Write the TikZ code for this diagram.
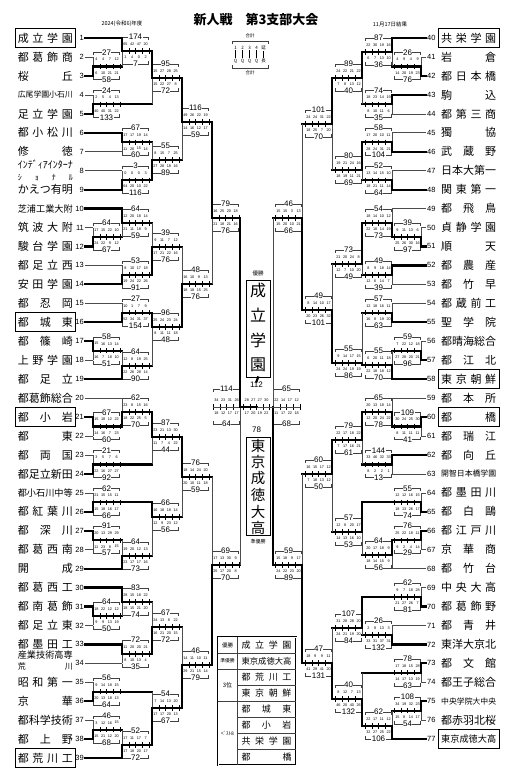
\documentclass[tikz,border=0pt]{standalone}
\usepackage{fontspec}
\usepackage{graphicx}
\setmainfont{Liberation Sans}
\newfontfamily\jp{Noto Sans CJK JP}
\usetikzlibrary{calc}

\makeatletter
\def\sp@first#1{#1\sp@loop}
\def\sp@loop#1{\ifx\relax#1\else\hfill#1\expandafter\sp@loop\fi}
\newcommand\spreadname[2][55pt]{\makebox[#1][s]{\sp@first#2\relax}}
\makeatother
\newcommand\fitname[2][55pt]{\sbox0{#2}\ifdim\wd0>#1\relax\resizebox{#1}{!}{#2}\else\spreadname[#1]{#2}\fi}
\newcommand\tabname[1]{\fitname[50pt]{#1}}

% quarter scores, four in a row
\def\qsplit#1 #2 #3 #4\relax{%
  \node[qtr] at (3.375,\qy) {#1};
  \node[qtr] at (10.125,\qy) {#2};
  \node[qtr] at (16.875,\qy) {#3};
  \node[qtr] at (23.625,\qy) {#4};}

% score box: [half height] coordinate, x offset, top total, top quarters, bottom total, bottom quarters
\newcommand\scorebox[7][14]{%
  \begin{scope}[shift={(#2)}, xshift=#3]
    \draw[frame line] (0.5,{-#1+3}) -- (0.5,-#1) -- (26.5,-#1) -- (26.5,{-#1+3});
    \draw[frame line] (0.5,{#1-4}) -- (0.5,{#1-1}) -- (26.5,{#1-1}) -- (26.5,{#1-4});
    \foreach \k in {0,...,4} \draw[tick line] ({\k*6.75},-2.6) -- ({\k*6.75},2.6);
    \def\qy{-7}\expandafter\qsplit#5\relax
    \def\qy{6.5}\expandafter\qsplit#7\relax
    \node[total] at (13.5,-#1) {#4};
    \node[total] at (13.5,{#1-1}) {#6};
  \end{scope}}

\begin{document}
\begin{tikzpicture}[x=1pt, y=-1pt,
    win line/.style={line width=2.2pt, line cap=rect},
    lose line/.style={line width=0.6pt, draw=black!70},
    h w/.style={win line}, v w/.style={win line},
    h l/.style={win line}, v l/.style={lose line},
    h o/.style={lose line}, v o/.style={lose line},
    frame line/.style={line width=0.35pt, draw=black!75},
    tick line/.style={line width=0.35pt},
    total/.style={font=\fontsize{8}{9}\selectfont, fill=white, inner sep=0.5pt},
    qtr/.style={font=\fontsize{3.8}{4}\selectfont, inner sep=0pt},
    tnum/.style={font=\fontsize{7.5}{8}\selectfont, inner sep=1pt},
    tname/.style={font=\jp\fontsize{11}{12}\selectfont, inner sep=0pt},
    name frame/.style={line width=0.6pt},
    small jp/.style={font=\jp\fontsize{5.5}{6}\selectfont, inner sep=0.5pt},
    legend jp/.style={font=\jp\fontsize{4.5}{5}\selectfont, inner sep=0.5pt},
  ]
  \useasboundingbox (0,0) rectangle (514,782);
  \fill[white] (0,0) rectangle (514,782);

  % heading
  \node[font=\jp\bfseries\fontsize{13}{14}\selectfont] (title) at (256,20) {新人戦　第3支部大会};
  \node[small jp] (season) at (122,24) {2024(令和6)年度};
  \node[small jp] (result) at (390,24) {11月17日結果};

  % legend
  \node[legend jp] (lgtop) at (250,36) {合計};
  \draw[frame line] (232,44) -- (232,41) -- (268,41) -- (268,44);
  \foreach \c [count=\k] in {1,2,3,4,延} {
    \node[legend jp] (lga\k) at ({228.5+7*\k},48) {\c};
    \node[legend jp] (lgb\k) at ({228.5+7*\k},61) {\ifnum\k=5 長\else Q\fi};
    \draw[tick line] (lga\k) -- (lgb\k);
  }
  \draw[frame line] (232,65) -- (232,68) -- (268,68) -- (268,65);
  \node[legend jp] (lgbot) at (250,73) {合計};

  % teams, left side
  \foreach \i in {1,...,39}
    \node[tnum, anchor=east] (t\i) at (85,{38+(\i-1)*18.95}) {\i};
  \foreach \i/\nm in {1/成立学園, 2/都葛飾商, 3/桜丘, 4/広尾学園小石川, 5/足立学園,
      6/都小松川, 7/修徳, 9/かえつ有明, 10/芝浦工業大附, 11/筑波大附, 12/駿台学園,
      13/都足立西, 14/安田学園, 15/都忍岡, 16/都城東, 17/都篠崎, 18/上野学園, 19/都足立,
      20/都葛飾総合, 21/都小岩, 22/都東, 23/都両国, 24/都足立新田, 25/都小石川中等,
      26/都紅葉川, 27/都深川, 28/都葛西南, 29/開成, 30/都葛西工, 31/都南葛飾,
      32/都足立東, 33/都墨田工, 35/昭和第一, 36/京華, 37/都科学技術, 38/都上野, 39/都荒川工}
    \node[tname, anchor=east] (n\i) at (73,{38+(\i-1)*18.95}) {\expandafter\fitname\expandafter{\nm}};
  \node[tname, anchor=east, align=left, font=\jp\fontsize{8}{12}\selectfont] (n8) at (73,170.4)
    {\resizebox{55pt}{!}{ｲﾝﾃﾞｨｱｲﾝﾀｰﾅ}\\\spreadname{ｼｮﾅﾙ}};
  \node[tname, anchor=east, align=left, font=\jp\fontsize{8}{11}\selectfont] (n34) at (73,660.5)
    {\resizebox{55pt}{!}{産業技術高専}\\\spreadname{荒川}};

  % teams, right side
  \foreach \j in {40,...,77}
    \node[tnum, anchor=west] (t\j) at (426,{38+(\j-40)*18.95}) {\j};
  \foreach \j/\nm in {40/共栄学園, 41/岩倉, 42/都日本橋, 43/駒込, 44/都第三商, 45/獨協,
      46/武蔵野, 47/日本大第一, 48/関東第一, 49/都飛鳥, 50/貞静学園, 51/順天, 52/都農産,
      53/都竹早, 54/都蔵前工, 55/聖学院, 56/都晴海総合, 57/都江北, 58/東京朝鮮, 59/都本所,
      60/都橋, 61/都瑞江, 62/都向丘, 63/開智日本橋学園, 64/都墨田川, 65/都白鷗,
      66/都江戸川, 67/京華商, 68/都竹台, 69/中央大高, 70/都葛飾野, 71/都青井,
      72/東洋大京北, 73/都文館, 74/都王子総合, 75/中央学院大中央, 76/都赤羽北桜,
      77/東京成徳大高}
    \node[tname, anchor=west] (n\j) at (441,{38+(\j-40)*18.95}) {\expandafter\fitname\expandafter{\nm}};

  % best 8 frames
  \foreach \i in {1,16,21,39,40,58,60,77}
    \draw[name frame] ($(n\i.west)+(-2.5,-9.5)$) rectangle ($(n\i.east)+(2.5,9.5)$);

  % matches: name/offset/x/y/top/code/bottom/code/top total/quarters/bottom total/quarters
  \foreach \m/\d/\x/\y/\A/\cA/\B/\cB/\sA/\qA/\sB/\qB in {
      a23/0/93/66.4/t2.east/o/t3.east/w/27/4 4 7 12/58/6 10 21 21,
      a13/0/122/51/t1.east/w/a23/l/174/65 42 47 20/7/1 4 0 2,
      a45/0/93/104.3/t4.east/o/t5.east/w/24/2 5 4 13/133/40 40 31 22,
      a15/0/152/78/a13/w/a45/l/95/15 27 28 25/72/15 22 27 8,
      a67/0/122/142.2/t6.east/w/t7.east/o/67/17 17 19 14/60/11 20 15 14,
      a89/0/122/180.1/t8.east/o/t9.east/w/3/0 0 0 3/116/64 20 10 22,
      a69/0/152/160/a67/l/a89/w/55/8 15 7 25/89/27 28 18 16,
      a19/0/182/122/a15/w/a69/l/116/49 26 22 19/59/14 16 12 17,
      a1112/0/93/237/t11.east/o/t12.east/w/64/17 15 22 10/67/24 22 9 12,
      a1012/0/122/223/t10.east/w/a1112/l/64/12 20 18 14/59/21 11 18 9,
      a1314/0/122/274.9/t13.east/o/t14.east/w/53/8 10 17 18/91/19 24 22 26,
      a1014/0/152/247/a1012/l/a1314/w/39/9 11 7 12/76/17 21 22 16,
      a1516/0/122/312.8/t15.east/o/t16.east/w/27/10 1 7 9/154/52 34 31 37,
      a1718/0/93/350.7/t17.east/w/t18.east/o/58/15 16 13 14/51/16 7 18 10,
      a1719/0/122/366/a1718/l/t19.east/w/64/12 8 19 25/90/22 26 28 14,
      a1519/0/152/327/a1516/w/a1719/l/96/25 24 23 24/48/8 11 11 18,
      a1019/0/182/284/a1014/l/a1519/w/48/16 10 9 13/76/18 18 15 25,
      a119/0/212/218/a19/w/a1019/l/79/16 25 20 18/76/21 18 21 16,
      a2122/0/93/426.5/t21.east/w/t22.east/o/67/15 18 12 22/60/14 16 7 23,
      a2022/0/122/412/t20.east/o/a2122/w/62/23 8 15 16/70/18 22 25 5,
      a2324/0/93/464.4/t23.east/o/t24.east/w/21/3 5 7 6/92/22 16 27 27,
      a2024/0/152/437/a2022/w/a2324/l/87/23 21 13 30/44/11 7 4 22,
      a2526/0/93/502.3/t25.east/o/t26.east/w/62/21 15 15 11/66/15 18 16 17,
      a2728/0/93/540.2/t27.east/w/t28.east/o/91/20 13 29 29/57/11 23 8 15,
      a2729/0/122/556/a2728/l/t29.east/w/64/19 20 12 13/73/23 17 17 16,
      a2529/0/152/517/a2526/w/a2729/l/66/16 18 18 14/56/12 9 23 12,
      a2029/0/182/477/a2024/w/a2529/l/76/18 14 24 20/59/20 10 11 18,
      a3132/0/93/616/t31.east/w/t32.east/o/64/18 22 12 12/50/9 9 13 19,
      a3032/0/122/602/t30.east/w/a3132/l/83/28 15 18 22/74/18 15 21 20,
      a3334/0/122/653.9/t33.east/w/t34.east/o/72/11 20 20 21/35/8 10 13 4,
      a3034/0/152/627/a3032/l/a3334/w/67/24 13 8 22/72/16 21 20 15,
      a3536/0/93/691.8/t35.east/o/t36.east/w/56/9 14 18 15/64/20 13 18 13,
      a3738/0/93/729.7/t37.east/o/t38.east/w/46/3 12 16 15/68/15 21 12 20,
      a3739/0/122/745/a3738/l/t39.east/w/52/17 11 17 7/72/17 18 20 17,
      a3539/0/152/708/a3536/l/a3739/w/54/7 14 13 20/67/17 17 20 13,
      a3039/0/182/665/a3034/l/a3539/w/46/14 11 10 11/79/29 21 15 14,
      a2039/0/212/565/a2029/l/a3039/w/69/17 13 30 9/70/25 17 20 8,
      b4142/-27/421/66.4/t41.west/o/t42.west/w/26/4 9 4 9/76/14 20 19 23,
      b4042/-27/392/52/t40.west/w/b4142/l/87/22 30 19 16/36/6 7 13 10,
      b4344/-27/392/104.3/t43.west/w/t44.west/o/74/18 23 14 19/35/8 10 11 6,
      b4044/-27/362/78/b4042/w/b4344/l/89/24 22 21 22/40/7 8 13 12,
      b4546/-27/392/142.2/t45.west/o/t46.west/w/58/17 20 10 11/104/28 24 31 21,
      b4748/-27/392/180.1/t47.west/o/t48.west/w/52/13 14 15 10/64/18 21 11 14,
      b4548/-27/362/170/b4546/w/b4748/l/80/19 21 24 16/69/18 19 11 21,
      b4048/-27/332/124/b4044/w/b4548/l/101/24 24 31 22/70/18 25 7 20,
      b5051/-27/421/237/t50.west/o/t51.west/w/39/9 11 13 6/97/25 26 30 16,
      b4951/-27/392/223/t49.west/o/b5051/w/54/18 14 10 12/73/22 18 14 19,
      b5253/-27/392/274.9/t52.west/w/t53.west/o/49/8 9 18 14/39/12 6 14 7,
      b4953/-27/362/264/b4951/w/b5253/l/73/21 20 24 8/49/12 7 10 20,
      b5455/-27/392/312.8/t54.west/o/t55.west/w/57/12 18 16 11/63/16 8 19 20,
      b5657/-27/421/350.7/t56.west/o/t57.west/w/59/7 22 12 18/96/27 28 20 21,
      b5658/-27/392/365/b5657/l/t58.west/w/55/6 20 11 18/70/22 18 18 12,
      b5458/-27/362/363/b5455/l/b5658/w/55/9 14 17 15/86/24 24 19 19,
      b4958/-27/332/310/b4953/l/b5458/w/49/8 14 10 17/101/20 23 26 32,
      b4058/-27/302/218/b4048/l/b4958/w/46/15 15 3 13/66/15 20 10 21,
      b6061/-27/421/426.5/t60.west/w/t61.west/o/109/30 24 25 30/41/8 11 11 11,
      b5961/-27/392/412/t59.west/o/b6061/w/65/20 13 18 14/78/12 20 24 22,
      b6263/-27/392/464.4/t62.west/w/t63.west/o/144/33 46 32 33/13/8 2 2 1,
      b5963/-27/362/440/b5961/w/b6263/l/79/22 17 18 22/61/7 17 16 21,
      b6465/-27/421/502.3/t64.west/o/t65.west/w/55/12 12 16 15/74/18 13 26 17,
      b6667/-27/421/540.2/t66.west/w/t67.west/o/76/25 22 18 11/29/9 2 4 14,
      b6668/-27/392/555/b6667/w/t68.west/o/64/20 17 18 9/56/18 14 15 9,
      b6468/-27/362/532/b6465/w/b6668/l/57/12 8 20 17/53/14 13 16 10,
      b5968/-27/332/474/b5963/w/b6468/l/60/16 15 17 12/50/7 18 13 12,
      b6970/-27/421/597/t69.west/o/t70.west/w/62/9 7 18 28/81/21 27 26 7,
      b7172/-27/392/635/t71.west/o/t72.west/w/26/2 8 13 3/132/33 31 37 31,
      b6972/-27/362/628/b6970/w/b7172/l/107/31 28 28 20/84/24 21 19 20,
      b7374/-27/421/672.8/t73.west/w/t74.west/o/78/17 18 15 28/63/14 17 13 19,
      b7576/-27/421/710.7/t75.west/w/t76.west/o/108/34 19 32 23/54/15 8 14 17,
      b7577/-27/392/726/b7576/l/t77.west/w/62/22 17 11 12/106/32 27 25 22,
      b7377/-27/362/699/b7374/l/b7577/w/40/8 12 7 13/132/46 20 40 26,
      b6977/-27/332/663/b6972/l/b7377/w/47/18 9 9 11/131/41 29 41 20,
      b5977/-27/302/565/b5968/l/b6977/w/59/15 18 9 17/89/24 22 23 20%
    }{
    \coordinate (\m) at (\x,\y);
    \scorebox{\m}{\d}{\sA}{\qA}{\sB}{\qB}
    \draw[h \cA] (\A) -- (\A -| \m);
    \draw[v \cA] (\A -| \m) -- (\m);
    \draw[h \cB] (\B) -- (\B -| \m);
    \draw[v \cB] (\B -| \m) -- (\m);
  }

  % semi-finals
  \coordinate (sL) at (240,407);
  \coordinate (sR) at (273,407);
  \scorebox[18]{sL}{-27}{114}{34 23 31 26}{64}{18 12 17 17}
  \scorebox[18]{sR}{0}{65}{22 14 17 12}{68}{11 17 22 18}
  \draw[h w] (a119) -- (a119 -| sL);
  \draw[v w] (a119 -| sL) -- (sL);
  \draw[h l] (a2039) -- (a2039 -| sL);
  \draw[v l] (a2039 -| sL) -- (sL);
  \draw[h l] (b4058) -- (b4058 -| sR);
  \draw[v l] (b4058 -| sR) -- (sR);
  \draw[h w] (b5977) -- (b5977 -| sR);
  \draw[v w] (b5977 -| sR) -- (sR);
  \draw[lose line] (sL) -- ++(-27,0);
  \draw[lose line] (sR) -- ++(27,0);

  % final
  \coordinate (fin) at (256.5,407);
  \begin{scope}[shift={(fin)}]
    \foreach \k in {-2,...,2} \draw[tick line] ({\k*6.5},-2.6) -- ({\k*6.5},2.6);
    \foreach \q [count=\k] in {28,27,27,30} \node[qtr] at ({-16.25+6.5*\k},-7) {\q};
    \foreach \q [count=\k] in {17,20,19,22} \node[qtr] at ({-16.25+6.5*\k},6.5) {\q};
  \end{scope}
  \draw[win line] (sL) -- (fin);
  \draw[lose line] (sR) -- (fin);
  \node[total] (ftop) at (256.5,385) {112};
  \node[total] (fbot) at (256.5,430) {78};

  % champion and runner-up
  \node[small jp] (wlab) at (258,273) {優勝};
  \node[draw, line width=0.9pt, minimum width=24pt, minimum height=97pt] (champ) at (258,328.5) {};
  \foreach \c [count=\k] in {成,立,学,園}
    \node[font=\jp\fontsize{16}{16}\selectfont, inner sep=0pt] (w\k) at (258,{265+25*\k}) {\c};
  \node[draw, line width=0.9pt, minimum width=24pt, minimum height=98pt] (runner) at (258,486) {};
  \foreach \c [count=\k] in {東,京,成,徳,大,高}
    \node[font=\jp\fontsize{14.5}{15}\selectfont, inner sep=0pt] (r\k) at (258,{429+16.5*\k}) {\c};
  \node[small jp, font=\jp\fontsize{5}{5}\selectfont] (rlab) at (258,542) {準優勝};
  \draw[win line] (champ.south) -- (ftop.north);

  % result table
  \draw[line width=0.5pt, double, double distance=1pt] (218,637) rectangle (296,765);
  \draw[frame line] (237,637) -- (237,765);
  \foreach \k in {1,...,7} \draw[frame line] (237,{637+16*\k}) -- (296,{637+16*\k});
  \foreach \k in {1,2,4} \draw[frame line] (218,{637+16*\k}) -- (237,{637+16*\k});
  \node[small jp] (c1) at (227.5,645) {優勝};
  \node[small jp, font=\jp\fontsize{4.8}{5}\selectfont] (c2) at (227.5,661) {準優勝};
  \node[small jp, font=\jp\fontsize{6}{6}\selectfont] (c3) at (227.5,685) {3位};
  \node[small jp, font=\jp\fontsize{5}{5}\selectfont] (c4) at (227.5,733) {ﾍﾞｽﾄ8};
  \foreach \nm [count=\k] in {成立学園,東京成徳大高,都荒川工,東京朝鮮,都城東,都小岩,共栄学園,都橋}
    \node[font=\jp\fontsize{9}{10}\selectfont, inner sep=0pt] (row\k) at (266.5,{629+16*\k}) {\expandafter\tabname\expandafter{\nm}};
\end{tikzpicture}
\end{document}
